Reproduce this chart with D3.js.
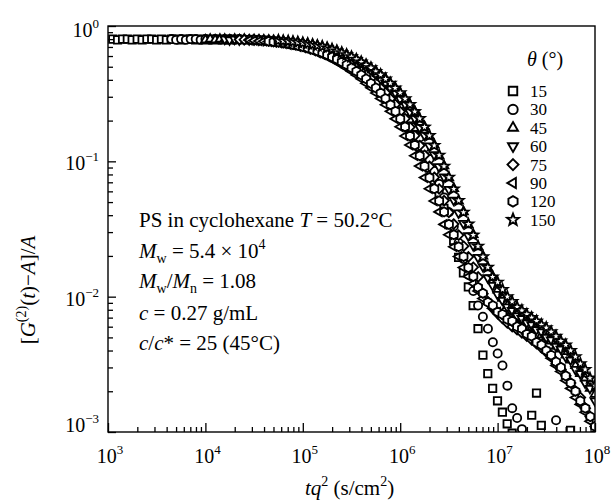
<!DOCTYPE html>
<html><head><meta charset="utf-8">
<script src="https://cdn.jsdelivr.net/npm/d3@7"></script>
<style>
body{margin:0;background:#fff;}
text{font-family:"Liberation Serif","Times New Roman",serif;fill:#000;}
</style></head><body>
<svg id="c" width="613" height="504"></svg>
<script>
// scattering angles (degrees)
const angles = [15, 30, 45, 60, 75, 90, 120, 150];
// correlator delay times (microseconds)
const tauMicro = [1.00,1.12,1.26,1.41,1.58,1.78,2.00,2.24,2.51,2.82,3.16,3.55,3.98,4.47,5.01,5.62,6.31,7.08,7.94,8.91,
 10.0,11.2,12.6,14.1,15.8,17.8,20.0,22.4,25.1,28.2,31.6,35.5,39.8,44.7,50.1,56.2,63.1,70.8,79.4,89.1,
 100,112,126,141,158,178,200,224,251,282,316,355,398,447,501,562,631,708,794,891,
 1000,1120,1260,1410,1580,1780,2000,2240,2510,2820,3160,3550,3980,4470,5010,5620,6310,7080,7940,8910,
 10000,11200,12600,14100,15800,17800,20000,22400,25100,28200,31600,35500,39800,44700,50100,56200,63100,70800,79400,89100];
// q^2 for each angle (cm^-2)
const qSquared = [1.12e9, 4.47e9, 1.00e10, 1.58e10, 2.24e10, 2.82e10, 4.47e10, 5.62e10];

// [G2(t)-A]/A for each angle, aligned with tauMicro
const g15 = [0.80,0.79,0.80,0.80,0.79,0.80,0.79,0.80,0.80,0.79,0.80,0.79,0.80,0.80,0.79,0.80,0.80,0.79,0.80,0.79,0.80,0.79,0.80,0.79,0.79,0.80,
 0.794,0.792,0.791,0.788,0.785,0.781,0.776,0.771,0.766,0.758,0.750,0.740,0.729,0.717,0.705,0.689,0.673,0.654,0.635,0.613,0.592,0.567,0.543,0.516,0.491,0.462,0.436,0.406,0.378,0.348,0.321,0.290,0.263,0.233,0.207,0.179,0.155,
 0.128,0.108,0.089,0.072,0.057,0.045,0.034,0.026,0.0195,0.0150,0.0118,0.0086,0.0058,0.0037,0.0027,0.0021,0.0017,0.0014,0.00115,0.00098,0.00085,null,null,0.00133,0.00194,0.00112,null,null,null,null,null,0.00103];
const g30 = [0.80,0.79,0.80,0.79,0.80,0.80,0.79,0.80,0.79,0.80,0.79,0.80,0.80,0.79,0.80,
 0.794,0.792,0.791,0.788,0.785,0.781,0.776,0.771,0.766,0.758,0.750,0.740,0.729,0.717,0.705,0.689,0.673,0.654,0.635,0.613,0.592,0.567,0.543,0.516,0.491,0.462,0.436,0.406,0.378,0.348,0.321,0.290,0.263,0.233,0.207,0.179,
 0.150,0.126,0.104,0.085,0.068,0.054,0.042,0.033,0.025,0.019,0.0145,0.0110,0.0086,0.0071,0.0058,0.0046,0.0038,0.0031,0.0022,0.0015,0.00127,0.00105,0.00092,null,null,null,null,null,0.00122];
const g45 = [0.79,0.80,0.79,0.80,0.80,0.79,0.80,0.79,0.80,0.79,
 0.795,0.791,0.790,0.789,0.784,0.780,0.777,0.770,0.765,0.759,0.749,0.741,0.728,0.718,0.703,0.690,0.671,0.655,0.633,0.614,0.590,0.568,0.541,0.517,0.489,0.463,0.434,0.407,0.376,0.349,0.319,0.291,0.261,0.234,0.205,0.180,0.153,0.132,0.110,0.0925,0.0755,0.0630,0.0508,0.0424,0.0340,0.0288,0.0233,0.0199,0.0163,0.0141,
 0.0112,0.0097,0.0086,0.0078,0.0073,0.0067,0.0064,0.0059,0.0057,0.0052,0.0050,0.0047,0.0043,0.0041,0.0037,0.0034,0.0031,0.0027,0.0025,0.0021,0.0019];
const g60 = [0.80,0.79,0.80,0.79,0.80,
 0.793,0.793,0.790,0.787,0.786,0.780,0.775,0.772,0.765,0.757,0.751,0.739,0.730,0.716,0.706,0.688,0.674,0.653,0.636,0.612,0.593,0.566,0.544,0.515,0.492,0.461,0.437,0.405,0.379,0.347,0.322,0.289,0.264,0.232,0.208,0.178,0.156,0.130,0.112,0.0913,0.0768,0.0620,0.0517,0.0416,0.0348,0.0282,0.0239,0.0195,0.0167,0.0138,
 0.0121,0.0104,0.0094,0.0084,0.0079,0.0072,0.0069,0.0064,0.0062,0.0057,0.0055,0.0050,0.0048,0.0043,0.0041,0.0036,0.0034,0.0029,0.0027,0.0023,0.0021,0.0017];
const g75 = [0.794,0.792,0.791,0.788,0.785,0.781,0.776,0.771,0.766,0.758,0.750,0.740,0.729,0.717,0.705,0.689,0.673,0.654,0.635,0.613,0.592,0.567,0.543,0.516,0.491,0.462,0.436,0.406,0.378,0.348,0.321,0.290,0.263,0.233,0.207,0.179,0.155,0.131,0.111,0.0919,0.0762,0.0625,0.0513,0.0420,0.0344,0.0285,0.0236,0.0197,0.0165,0.0140,
 0.0105,0.0092,0.0082,0.0075,0.0069,0.0064,0.0060,0.0057,0.0054,0.0051,0.0048,0.0045,0.0042,0.0039,0.0036,0.0032,0.0029,0.0026,0.0023,0.0020,0.0018,0.0015,0.0013,0.0011];
const g90 = [0.786,0.782,0.775,0.772,0.767,0.757,0.751,0.741,0.728,0.718,0.704,0.690,0.672,0.655,0.634,0.614,0.591,0.568,0.542,0.517,0.490,0.463,0.435,0.407,0.377,0.349,0.320,0.291,0.262,0.234,0.206,0.180,0.154,0.132,0.110,0.0922,0.0758,0.0628,0.0510,0.0423,0.0342,0.0287,0.0234,0.0198,0.0164,0.0141,
 0.0125,0.0110,0.0097,0.0089,0.0082,0.0077,0.0072,0.0068,0.0064,0.0061,0.0057,0.0053,0.0050,0.0046,0.0043,0.0039,0.0035,0.0031,0.0028,0.0024,0.0021,0.0018,0.0016,0.0014,0.0012,0.00098];
const g120 = [0.772,0.765,0.759,0.749,0.741,0.728,0.718,0.704,0.690,0.672,0.655,0.634,0.614,0.591,0.568,0.542,0.517,0.490,0.463,0.435,0.407,0.377,0.349,0.320,0.291,0.262,0.234,0.206,0.180,0.154,0.132,0.110,0.0922,0.0758,0.0628,0.0510,0.0423,0.0342,0.0287,0.0234,0.0198,0.0164,0.0141,
 0.0117,0.0106,0.0091,0.0086,0.0077,0.0074,0.0068,0.0066,0.0060,0.0058,0.0053,0.0051,0.0046,0.0044,0.0040,0.0037,0.0033,0.0030,0.0026,0.0023,0.0020,0.0017,0.0015,0.0013,0.0011];
const g150 = [0.781,0.776,0.771,0.766,0.758,0.750,0.740,0.729,0.717,0.705,0.689,0.673,0.654,0.635,0.613,0.592,0.567,0.543,0.516,0.491,0.462,0.436,0.406,0.378,0.348,0.321,0.290,0.263,0.233,0.207,0.179,0.155,0.131,0.111,0.0919,0.0762,0.0625,0.0513,0.0420,0.0344,0.0285,0.0236,0.0197,0.0165,0.0140,
 0.0128,0.0113,0.0100,0.0092,0.0084,0.0079,0.0074,0.0070,0.0066,0.0062,0.0059,0.0055,0.0051,0.0047,0.0044,0.0040,0.0036,0.0032,0.0029,0.0025,0.0022];

const xTickExps = [3, 4, 5, 6, 7, 8];
const yTickExps = [0, -1, -2, -3];
const annotationLines = [
  [["PS in cyclohexane ", ""], ["T", "i"], [" = 50.2°C", ""]],
  [["M", "i"], ["w", "sub"], [" = 5.4 × 10", ""], ["4", "sup"]],
  [["M", "i"], ["w", "sub"], ["/", ""], ["M", "i"], ["n", "sub"], [" = 1.08", ""]],
  [["c", "i"], [" = 0.27  g/mL", ""]],
  [["c", "i"], ["/", ""], ["c", "i"], ["* = 25 (45°C)", ""]]
];

const seriesValues = [g15, g30, g45, g60, g75, g90, g120, g150];
const shapeNames = ["square", "circle", "triUp", "triDown", "diamond", "triLeft", "hexagon", "star"];

const L = 108, R = 595, T = 26, B = 432;
const svg = d3.select("#c");
const x = d3.scaleLog().domain([1e3, 1e8]).range([L, R]);
const y = d3.scaleLog().domain([1e-3, 1]).range([B, T]);

function shapePath(name, s) {
  const p = (pts) => "M" + pts.map(q => q[0].toFixed(2) + "," + q[1].toFixed(2)).join("L") + "Z";
  switch (name) {
    case "square": { const r = 3.7 * s; return p([[-r,-r],[r,-r],[r,r],[-r,r]]); }
    case "circle": { const r = 4.1 * s; return `M${r},0A${r},${r} 0 1,1 ${-r},0A${r},${r} 0 1,1 ${r},0Z`; }
    case "triUp": { const r = 5.0 * s; return p([[0,-r],[r*0.866,r*0.5],[-r*0.866,r*0.5]]); }
    case "triDown": { const r = 5.0 * s; return p([[0,r],[r*0.866,-r*0.5],[-r*0.866,-r*0.5]]); }
    case "triLeft": { const r = 5.0 * s; return p([[-r,0],[r*0.5,-r*0.866],[r*0.5,r*0.866]]); }
    case "diamond": { const r = 4.8 * s; return p([[0,-r],[r,0],[0,r],[-r,0]]); }
    case "hexagon": { const r = 4.6 * s; const pts = d3.range(6).map(k => { const a = Math.PI/2 + k*Math.PI/3; return [r*Math.cos(a), -r*Math.sin(a)]; }); return p(pts); }
    case "star": { const ro = 5.4 * s, ri = 2.3 * s; const pts = d3.range(10).map(k => { const rr = k%2 ? ri : ro; const a = -Math.PI/2 + k*Math.PI/5; return [rr*Math.cos(a), rr*Math.sin(a)]; }); return p(pts); }
  }
}

// clip
svg.append("defs").append("clipPath").attr("id", "plotclip")
  .append("rect").attr("x", L).attr("y", T).attr("width", R - L).attr("height", B - T);

// data
const dataG = svg.append("g").attr("clip-path", "url(#plotclip)");
seriesValues.forEach((vals, i) => {
  const pts = vals.map((v, j) => v == null ? null : { x: tauMicro[j] * 1e-6 * qSquared[i], y: v }).filter(Boolean);
  dataG.append("g").selectAll("path").data(pts).join("path")
    .attr("transform", d => `translate(${x(d.x)},${y(d.y)})`)
    .attr("d", shapePath(shapeNames[i], 1))
    .attr("fill", "#fff").attr("stroke", "#000").attr("stroke-width", 1.8);
});

// axes ticks
const minorX = [], minorY = [];
xTickExps.slice(0, -1).forEach(e => { for (let k = 2; k <= 9; k++) minorX.push(k * Math.pow(10, e)); });
yTickExps.slice(0, -1).forEach(e => { for (let k = 2; k <= 9; k++) minorY.push(k * Math.pow(10, e - 1)); });
const majorX = xTickExps.map(e => Math.pow(10, e));
const majorY = yTickExps.map(e => Math.pow(10, e));

function styleAxis(g) { g.select(".domain").remove(); g.selectAll("text").remove(); g.selectAll("line").attr("stroke", "#000").attr("stroke-width", 1.3); }
svg.append("g").attr("transform", `translate(0,${B})`).call(d3.axisBottom(x).tickValues(majorX).tickSize(-9)).call(styleAxis);
svg.append("g").attr("transform", `translate(0,${B})`).call(d3.axisBottom(x).tickValues(minorX).tickSize(-5)).call(styleAxis);
svg.append("g").attr("transform", `translate(${L},0)`).call(d3.axisLeft(y).tickValues(majorY).tickSize(-8)).call(styleAxis);
svg.append("g").attr("transform", `translate(${L},0)`).call(d3.axisLeft(y).tickValues(minorY).tickSize(-5)).call(styleAxis);

// frame
svg.append("rect").attr("x", L).attr("y", T).attr("width", R - L).attr("height", B - T)
  .attr("fill", "none").attr("stroke", "#000").attr("stroke-width", 1.4);

// tick labels
function powLabel(sel, e) {
  sel.append("tspan").text("10");
  sel.append("tspan").attr("dy", -9).attr("font-size", 13).text(e < 0 ? "\u2212" + (-e) : String(e));
}
xTickExps.forEach(e => {
  const t = svg.append("text").attr("x", x(Math.pow(10, e)) + 2).attr("y", 463).attr("text-anchor", "middle").attr("font-size", 20);
  powLabel(t, e);
});
yTickExps.forEach(e => {
  const yy = Math.min(Math.max(y(Math.pow(10, e)) + 9, 37), B);
  const t = svg.append("text").attr("x", 99).attr("y", yy).attr("text-anchor", "end").attr("font-size", 20);
  powLabel(t, e);
});

// axis titles
const xl = svg.append("text").attr("x", (L + R) / 2 - 2).attr("y", 495).attr("text-anchor", "middle").attr("font-size", 21);
xl.append("tspan").attr("font-style", "italic").text("tq");
xl.append("tspan").attr("dy", -9).attr("font-size", 14).text("2");
xl.append("tspan").attr("dy", 9).text(" (s/cm");
xl.append("tspan").attr("dy", -9).attr("font-size", 14).text("2");
xl.append("tspan").attr("dy", 9).text(")");

const yl = svg.append("text").attr("transform", "translate(35,290) rotate(-90)").attr("text-anchor", "middle").attr("font-size", 21);
yl.append("tspan").text("[");
yl.append("tspan").attr("font-style", "italic").text("G");
yl.append("tspan").attr("dy", -9).attr("font-size", 14).text("(2)");
yl.append("tspan").attr("dy", 9).text("(");
yl.append("tspan").attr("font-style", "italic").text("t");
yl.append("tspan").text(")\u2212");
yl.append("tspan").attr("font-style", "italic").text("A");
yl.append("tspan").text("]/");
yl.append("tspan").attr("font-style", "italic").text("A");

// annotation
const baseY = [227, 258, 288, 320, 350];
annotationLines.forEach((parts, i) => {
  const t = svg.append("text").attr("x", 139).attr("y", baseY[i]).attr("font-size", 21);
  let shift = 0;
  parts.forEach(([s, kind]) => {
    const sp = t.append("tspan").text(s);
    let target = 0;
    if (kind === "i") sp.attr("font-style", "italic");
    if (kind === "sub") { sp.attr("font-size", 14); target = 5; }
    if (kind === "sup") { sp.attr("font-size", 14); target = -9; }
    sp.attr("dy", target - shift);
    shift = target;
  });
});

// legend
const lt = svg.append("text").attr("x", 527).attr("y", 66).attr("font-size", 20);
lt.append("tspan").attr("font-style", "italic").text("θ");
lt.append("tspan").text(" (°)");
angles.forEach((a, i) => {
  const cy = 91 + i * 18.4;
  svg.append("path").attr("transform", `translate(513,${cy})`).attr("d", shapePath(shapeNames[i], 1.15))
    .attr("fill", "#fff").attr("stroke", "#000").attr("stroke-width", 1.9);
  svg.append("text").attr("x", 530).attr("y", cy + 6).attr("font-size", 17).text(a);
});
</script>
</body></html>
